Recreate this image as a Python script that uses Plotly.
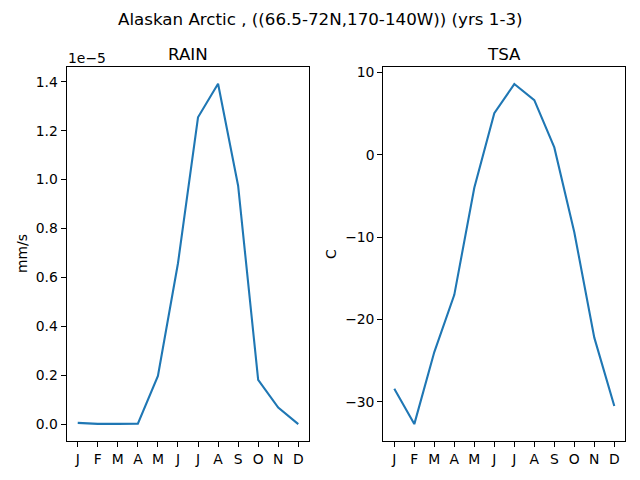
import plotly.graph_objects as go

# monthly climatology, Alaskan Arctic, years 1-3
months = ["J", "F", "M", "A", "M", "J", "J", "A", "S", "O", "N", "D"]
rain = [0.005e-5, 0.001e-5, 0.001e-5, 0.002e-5, 0.197e-5, 0.658e-5,
        1.255e-5, 1.392e-5, 0.975e-5, 0.181e-5, 0.068e-5, 0.0]  # mm/s
tsa = [-28.4, -32.7, -23.95, -17.0, -4.0, 5.05,
       8.6, 6.65, 0.9, -9.4, -22.2, -30.5]  # C

x = list(range(len(months)))
rain_scaled = [v / 1e-5 for v in rain]

# page body has an 8px margin, so the figure is drawn 8px smaller and shifted
OFF = 8
W, H = 640 - 2 * OFF, 480 - 2 * OFF
blue = "#1f77b4"
font = "DejaVu Sans"

fig = go.Figure()
fig.add_trace(go.Scatter(x=x, y=rain_scaled, mode="lines",
                         line=dict(color=blue, width=2.1),
                         xaxis="x", yaxis="y", showlegend=False))
fig.add_trace(go.Scatter(x=x, y=tsa, mode="lines",
                         line=dict(color=blue, width=2.1),
                         xaxis="x2", yaxis="y2", showlegend=False))

def px_x(p):
    return (p - OFF) / W

def px_y(p):
    return 1 - (p - OFF) / H

axis_common = dict(showline=True, mirror=True, linecolor="black", linewidth=1.1,
                   ticks="outside", ticklen=5, tickwidth=1.1, tickcolor="black",
                   showgrid=False, zeroline=False,
                   tickfont=dict(family=font, size=13.9, color="black"))

xr = [-0.55, 11.55]
fig.update_layout(
    width=W, height=H,
    margin=dict(l=0, r=0, t=0, b=0),
    paper_bgcolor="white", plot_bgcolor="white",
    xaxis=dict(domain=[px_x(66.7), px_x(309.3)], range=xr,
               tickvals=x, ticktext=months, anchor="y", **axis_common),
    yaxis=dict(domain=[px_y(441), px_y(65)], range=[-0.0696, 1.4616],
               tickvals=[0, 0.2, 0.4, 0.6, 0.8, 1.0, 1.2, 1.4], tickformat=".1f",
               anchor="x", **axis_common),
    xaxis2=dict(domain=[px_x(383.3), px_x(625.3)], range=xr,
                tickvals=x, ticktext=months, anchor="y2", **axis_common),
    yaxis2=dict(domain=[px_y(441), px_y(65)], range=[-34.77, 10.7],
                tickvals=[10, 0, -10, -20, -30], anchor="x2", **axis_common),
    font=dict(family=font, color="black"),
)

ann = [
    dict(text="Alaskan Arctic , ((66.5-72N,170-140W)) (yrs 1-3)", x=px_x(320), y=px_y(17),
         font=dict(size=16.7)),
    dict(text="RAIN", x=px_x(188), y=px_y(52), font=dict(size=16.7)),
    dict(text="TSA", x=px_x(504), y=px_y(52), font=dict(size=16.7)),
    dict(text="mm/s", x=px_x(22), y=px_y(253), textangle=-90, font=dict(size=13.9)),
    dict(text="C", x=px_x(331), y=px_y(253), textangle=-90, font=dict(size=13.9)),
    dict(text="1e−5", x=px_x(66), y=px_y(56), xanchor="left", font=dict(size=13.9)),
]
for a in ann:
    a.setdefault("xanchor", "center")
    fig.add_annotation(xref="paper", yref="paper", showarrow=False, yanchor="middle", **a)

fig.write_html("out.html")
